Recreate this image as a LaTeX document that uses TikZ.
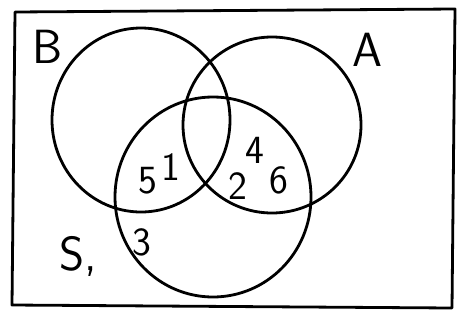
\documentclass[tikz,border=0pt]{standalone}
\usetikzlibrary{shapes.geometric}
\begin{document}
\begin{tikzpicture}[x=1pt,y=-1pt,
  ln/.style={line width=2.8pt,black},
  setc/.style={ln,draw,ellipse,inner sep=0pt},
  lett/.style={font=\sffamily\fontsize{48}{52}\selectfont},
  num/.style={font=\sffamily\fontsize{40}{44}\selectfont}]
\useasboundingbox (0,0) rectangle (460,322);
\draw[ln,line join=round] (15,12) -- (455,9) -- (452,308) -- (12,305) -- cycle;
\node[setc,minimum width=178pt,minimum height=184pt] (B) at (141,120) {};
\node[setc,minimum width=178pt,minimum height=176pt] (A) at (272,125) {};
\node[setc,minimum width=196pt,minimum height=200pt] (S) at (213,197) {};
\node[lett] (lB) at (48,47) {B};
\node[lett] (lA) at (367,50) {A};
\node[lett] (lS) at (78,256) {S,};
\node[num] (n3) at (142,242) {3};
\node[num] (n5) at (148,181) {5};
\node[num] (n1) at (171,167) {1};
\node[num] (n4) at (255,150) {4};
\node[num] (n6) at (279,180) {6};
\node[num] (n2) at (238,186) {2};
\end{tikzpicture}
\end{document}
